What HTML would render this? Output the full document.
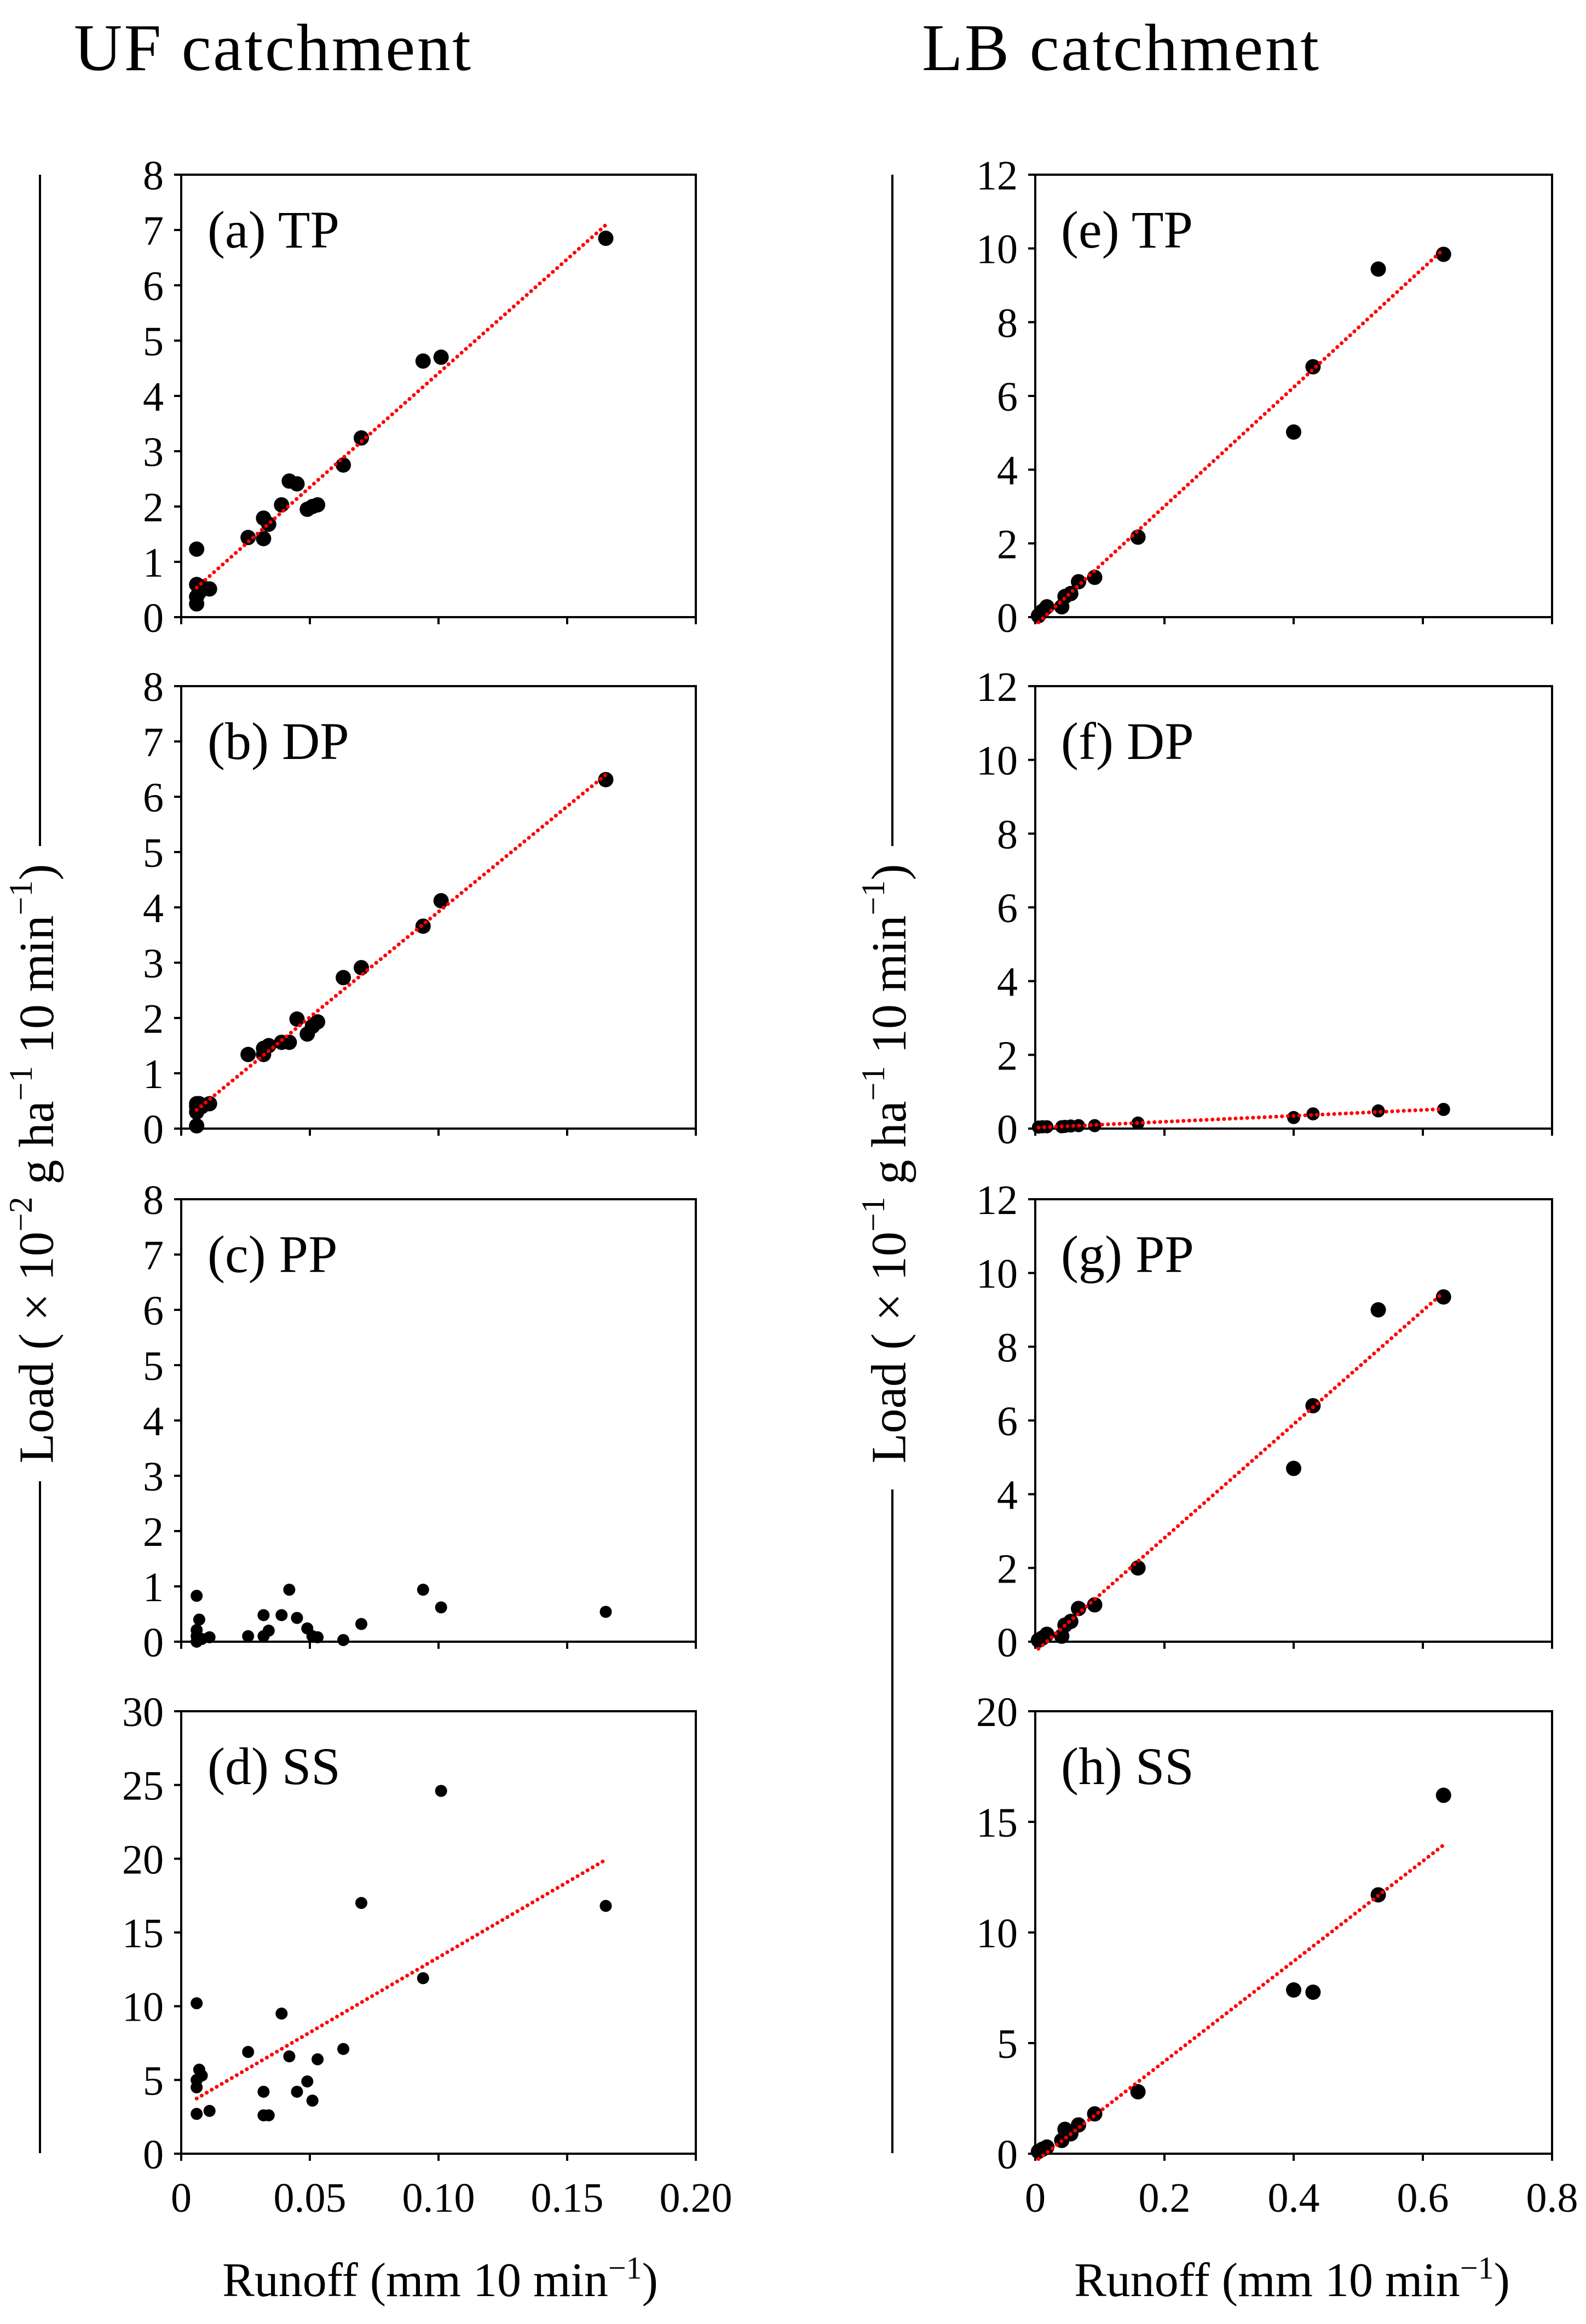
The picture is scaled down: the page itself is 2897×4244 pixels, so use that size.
<!DOCTYPE html>
<html><head><meta charset="utf-8">
<style>
html,body{margin:0;padding:0;background:#fff;}
svg{display:block;font-family:"Liberation Serif",serif;}
svg text{font-family:"Liberation Serif",serif;}
</style></head>
<body>
<svg id="fig" width="2897" height="4244" viewBox="0 0 2897 4244" xmlns="http://www.w3.org/2000/svg">
<text x="135" y="128" font-size="122" textLength="725">UF catchment</text>
<text x="1684" y="128" font-size="122" textLength="725">LB catchment</text>
<g>
<line x1="73" y1="319" x2="73" y2="1545" stroke="#000" stroke-width="4"/>
<line x1="73" y1="2705" x2="73" y2="3932" stroke="#000" stroke-width="4"/>
<text x="76" y="2125" font-size="90" text-anchor="middle" transform="rotate(-90 76 2125)" dominant-baseline="middle">Load ( × 10<tspan font-size="60" dy="-32">−2</tspan><tspan dy="32"> g ha</tspan><tspan font-size="60" dy="-32">−1</tspan><tspan dy="32"> 10 min</tspan><tspan font-size="60" dy="-32">−1</tspan><tspan dy="32">)</tspan></text>
</g>
<g>
<line x1="1630" y1="319" x2="1630" y2="1545" stroke="#000" stroke-width="4"/>
<line x1="1630" y1="2720" x2="1630" y2="3932" stroke="#000" stroke-width="4"/>
<text x="1633" y="2125" font-size="90" text-anchor="middle" transform="rotate(-90 1633 2125)" dominant-baseline="middle">Load ( × 10<tspan font-size="60" dy="-32">−1</tspan><tspan dy="32"> g ha</tspan><tspan font-size="60" dy="-32">−1</tspan><tspan dy="32"> 10 min</tspan><tspan font-size="60" dy="-32">−1</tspan><tspan dy="32">)</tspan></text>
</g>
<text x="804" y="4193" font-size="88" text-anchor="middle">Runoff (mm  10 min<tspan font-size="58" dy="-32">−1</tspan><tspan dy="32">)</tspan></text>
<text x="2360" y="4193" font-size="88" text-anchor="middle">Runoff (mm  10 min<tspan font-size="58" dy="-32">−1</tspan><tspan dy="32">)</tspan></text>
</svg>
<script>
// UF catchment data
const ufRunoff = [0.006,0.006,0.006,0.006,0.007,0.008,0.011,0.026,0.032,0.032,0.034,0.039,0.042,0.045,0.049,0.051,0.053,0.063,0.070,0.094,0.101,0.165];
const ufTP = [1.23,0.24,0.37,0.59,0.45,0.55,0.51,1.44,1.42,1.79,1.68,2.03,2.46,2.41,1.95,2.0,2.03,2.75,3.24,4.63,4.70,6.85];
const ufDP = [0.45,0.05,0.30,0.40,0.45,0.40,0.45,1.34,1.34,1.45,1.5,1.56,1.56,1.98,1.71,1.85,1.93,2.73,2.91,3.66,4.12,6.31];
const ufPP = [0.83,0.0,0.21,0.10,0.40,0.05,0.08,0.10,0.10,0.48,0.20,0.48,0.94,0.43,0.24,0.10,0.08,0.03,0.32,0.94,0.62,0.54];
const ufSS = [10.2,2.7,5.0,4.5,5.7,5.3,2.9,6.9,2.6,4.2,2.6,9.5,6.6,4.2,4.9,3.6,6.4,7.1,17.0,11.9,24.6,16.8];
// LB catchment data
const lbRunoff = [0.005,0.011,0.018,0.041,0.046,0.055,0.067,0.092,0.159,0.400,0.430,0.531,0.632];
const lbTP = [0.04,0.16,0.28,0.28,0.56,0.64,0.96,1.08,2.17,5.02,6.79,9.44,9.84];
const lbDP = [0.04,0.05,0.05,0.05,0.06,0.07,0.08,0.08,0.15,0.30,0.40,0.48,0.52];
const lbPP = [0.04,0.10,0.20,0.15,0.45,0.55,0.90,1.00,2.00,4.70,6.40,9.00,9.35];
const lbSS = [0.1,0.2,0.3,0.6,1.1,0.9,1.3,1.8,2.8,7.4,7.3,11.7,16.2];
// axis ticks
const ufXTicks = [0,0.05,0.10,0.15,0.20];
const ufXLabels = ["0","0.05","0.10","0.15","0.20"];
const lbXTicks = [0,0.2,0.4,0.6,0.8];
const lbXLabels = ["0","0.2","0.4","0.6","0.8"];
const yTicks8 = [0,1,2,3,4,5,6,7,8];
const yTicks30 = [0,5,10,15,20,25,30];
const yTicks12 = [0,2,4,6,8,10,12];
const yTicks20 = [0,5,10,15,20];

const NS = "http://www.w3.org/2000/svg";
const svg = document.getElementById('fig');
function mk(tag, attrs, parent){const e=document.createElementNS(NS,tag);for(const k in attrs)e.setAttribute(k,attrs[k]);(parent||svg).appendChild(e);return e;}

const tops=[319,1253,2190,3125], H=808;
const panels=[
 {id:'a',name:'TP',col:0,row:0,xs:ufRunoff,ys:ufTP,ymax:8,yt:yTicks8,fit:true,r:14},
 {id:'b',name:'DP',col:0,row:1,xs:ufRunoff,ys:ufDP,ymax:8,yt:yTicks8,fit:true,r:14},
 {id:'c',name:'PP',col:0,row:2,xs:ufRunoff,ys:ufPP,ymax:8,yt:yTicks8,fit:false,r:11},
 {id:'d',name:'SS',col:0,row:3,xs:ufRunoff,ys:ufSS,ymax:30,yt:yTicks30,fit:true,r:11},
 {id:'e',name:'TP',col:1,row:0,xs:lbRunoff,ys:lbTP,ymax:12,yt:yTicks12,fit:true,r:14},
 {id:'f',name:'DP',col:1,row:1,xs:lbRunoff,ys:lbDP,ymax:12,yt:yTicks12,fit:true,r:12},
 {id:'g',name:'PP',col:1,row:2,xs:lbRunoff,ys:lbPP,ymax:12,yt:yTicks12,fit:true,r:14},
 {id:'h',name:'SS',col:1,row:3,xs:lbRunoff,ys:lbSS,ymax:20,yt:yTicks20,fit:true,r:14}
];
const cols=[{L:331,W:940,xmax:0.2,xt:ufXTicks,xl:ufXLabels,labX:379},{L:1891,W:944,xmax:0.8,xt:lbXTicks,xl:lbXLabels,labX:1938}];

panels.forEach(p=>{
  const c=cols[p.col], T=tops[p.row], B=T+H;
  const sx=v=>c.L+v/c.xmax*c.W, sy=v=>B-v/p.ymax*H;
  const g=mk('g',{});
  
  
  const frame=mk('rect',{x:c.L,y:T,width:c.W,height:H,fill:'none',stroke:'#000','stroke-width':4},g);
  
  
  p.yt.forEach(v=>{
    mk('line',{x1:c.L-13,x2:c.L,y1:sy(v),y2:sy(v),stroke:'#000','stroke-width':4},g);
    const t=mk('text',{x:c.L-32,y:sy(v)+27,'font-size':76,'text-anchor':'end'},g);
    t.textContent=v;
    
    
  });
  c.xt.forEach((v,i)=>{
    mk('line',{x1:sx(v),x2:sx(v),y1:B,y2:B+13,stroke:'#000','stroke-width':4},g);
    if(p.row===3){
      const t=mk('text',{x:sx(v),y:B+106,'font-size':76,'text-anchor':'middle'},g);
      t.textContent=c.xl[i];
      
      
    }
  });
  const lab=mk('text',{x:c.labX,y:T+133,'font-size':96},g);
  lab.textContent='('+p.id+') '+p.name;
  
  
  p.xs.forEach((x,i)=>{
    const d=mk('circle',{cx:sx(x),cy:sy(p.ys[i]),r:p.r,fill:'#000'},g);
    
    
  });
  if(p.fit){
    const n=p.xs.length;let mx=0,my=0;
    p.xs.forEach((x,i)=>{mx+=x;my+=p.ys[i];});mx/=n;my/=n;
    let sxy=0,sxx=0;p.xs.forEach((x,i)=>{sxy+=(x-mx)*(p.ys[i]-my);sxx+=(x-mx)*(x-mx);});
    const b=sxy/sxx,a=my-b*mx;
    const x0=Math.min(...p.xs),x1=Math.max(...p.xs);
    const ln=mk('line',{x1:sx(x0),y1:sy(a+b*x0),x2:sx(x1),y2:sy(a+b*x1),stroke:'#ff0000','stroke-width':7,'stroke-linecap':'round','stroke-dasharray':'0.1 10.5'},g);
    
    
  }
});
</script>
</body></html>
